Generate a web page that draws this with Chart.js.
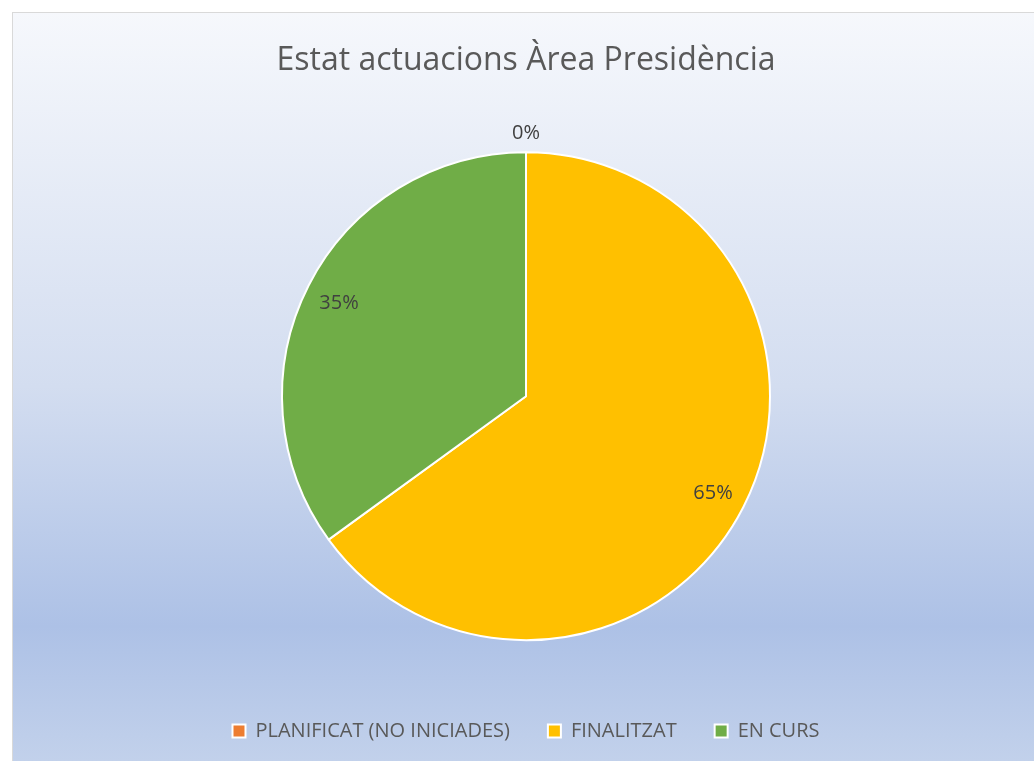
<!DOCTYPE html>
<html>
<head>
<meta charset="utf-8">
<script src="https://cdn.jsdelivr.net/npm/chart.js@4.4.1/dist/chart.umd.min.js"></script>
<style>
html,body{margin:0;padding:0;background:#fff;}
#wrap{width:1034px;height:761px;position:relative;}
</style>
</head>
<body>
<div id="wrap"><canvas id="c" width="1034" height="761"></canvas></div>
<script>
const categories = ["PLANIFICAT (NO INICIADES)", "FINALITZAT", "EN CURS"];
const values = [0, 65, 35];
const percentLabels = ["0%", "65%", "35%"];
const sliceColors = ["#ED7D31", "#FFC000", "#70AD47"];
const titleText = "Estat actuacions Àrea Presidència";

const bgPlugin = {
  id: 'bg',
  beforeDraw(chart) {
    const ctx = chart.ctx;
    ctx.save();
    const g = ctx.createLinearGradient(0, 12, 0, 761);
    g.addColorStop(0, '#F6F8FC');
    g.addColorStop(0.5, '#D3DDF0');
    g.addColorStop(0.82, '#ADC1E6');
    g.addColorStop(1, '#C2D1EB');
    ctx.fillStyle = '#FFFFFF';
    ctx.fillRect(0, 0, chart.width, chart.height);
    ctx.fillStyle = g;
    ctx.fillRect(12, 12, chart.width, chart.height);
    ctx.strokeStyle = '#D9D9D9';
    ctx.lineWidth = 1;
    ctx.strokeRect(12.5, 12.5, chart.width + 10, chart.height + 10);
    ctx.restore();
  }
};

const labelPlugin = {
  id: 'pieLabels',
  afterDatasetsDraw(chart) {
    const ctx = chart.ctx;
    const meta = chart.getDatasetMeta(0);
    ctx.save();
    ctx.font = '20px "Open Sans", sans-serif';
    ctx.fillStyle = '#404040';
    ctx.textAlign = 'center';
    ctx.textBaseline = 'middle';
    meta.data.forEach((arc, i) => {
      const p = arc.getProps(['x','y','startAngle','endAngle','outerRadius'], true);
      const mid = (p.startAngle + p.endAngle) / 2;
      const r = chart.data.datasets[0].data[i] === 0 ? p.outerRadius + 21 : p.outerRadius * 0.86;
      ctx.fillText(percentLabels[i], p.x + Math.cos(mid) * r, p.y + Math.sin(mid) * r + 2);
    });
    ctx.restore();
  }
};

new Chart(document.getElementById('c'), {
  type: 'pie',
  data: {
    labels: categories,
    datasets: [{
      data: values,
      backgroundColor: sliceColors,
      borderColor: '#FFFFFF',
      borderWidth: 2
    }]
  },
  plugins: [bgPlugin, labelPlugin],
  options: {
    responsive: false,
    animation: false,
    radius: 244,
    layout: { padding: { left: 30, right: 12, top: 0, bottom: 10 } },
    plugins: {
      title: {
        display: true,
        text: titleText,
        color: '#595959',
        font: { family: '"Open Sans", sans-serif', size: 32, weight: 'normal' },
        padding: { top: 42, bottom: 29 }
      },
      legend: {
        position: 'bottom',
        labels: {
          color: '#595959',
          font: { family: '"Open Sans", sans-serif', size: 20 },
          boxWidth: 13,
          boxHeight: 13,
          padding: 38,
          generateLabels(chart) {
            return categories.map((c, i) => ({
              text: c,
              fillStyle: sliceColors[i],
              strokeStyle: '#FFFFFF',
              lineWidth: 2,
              fontColor: '#595959',
              index: i,
              hidden: false
            }));
          }
        }
      },
      tooltip: { enabled: false }
    }
  }
});
</script>
</body>
</html>
